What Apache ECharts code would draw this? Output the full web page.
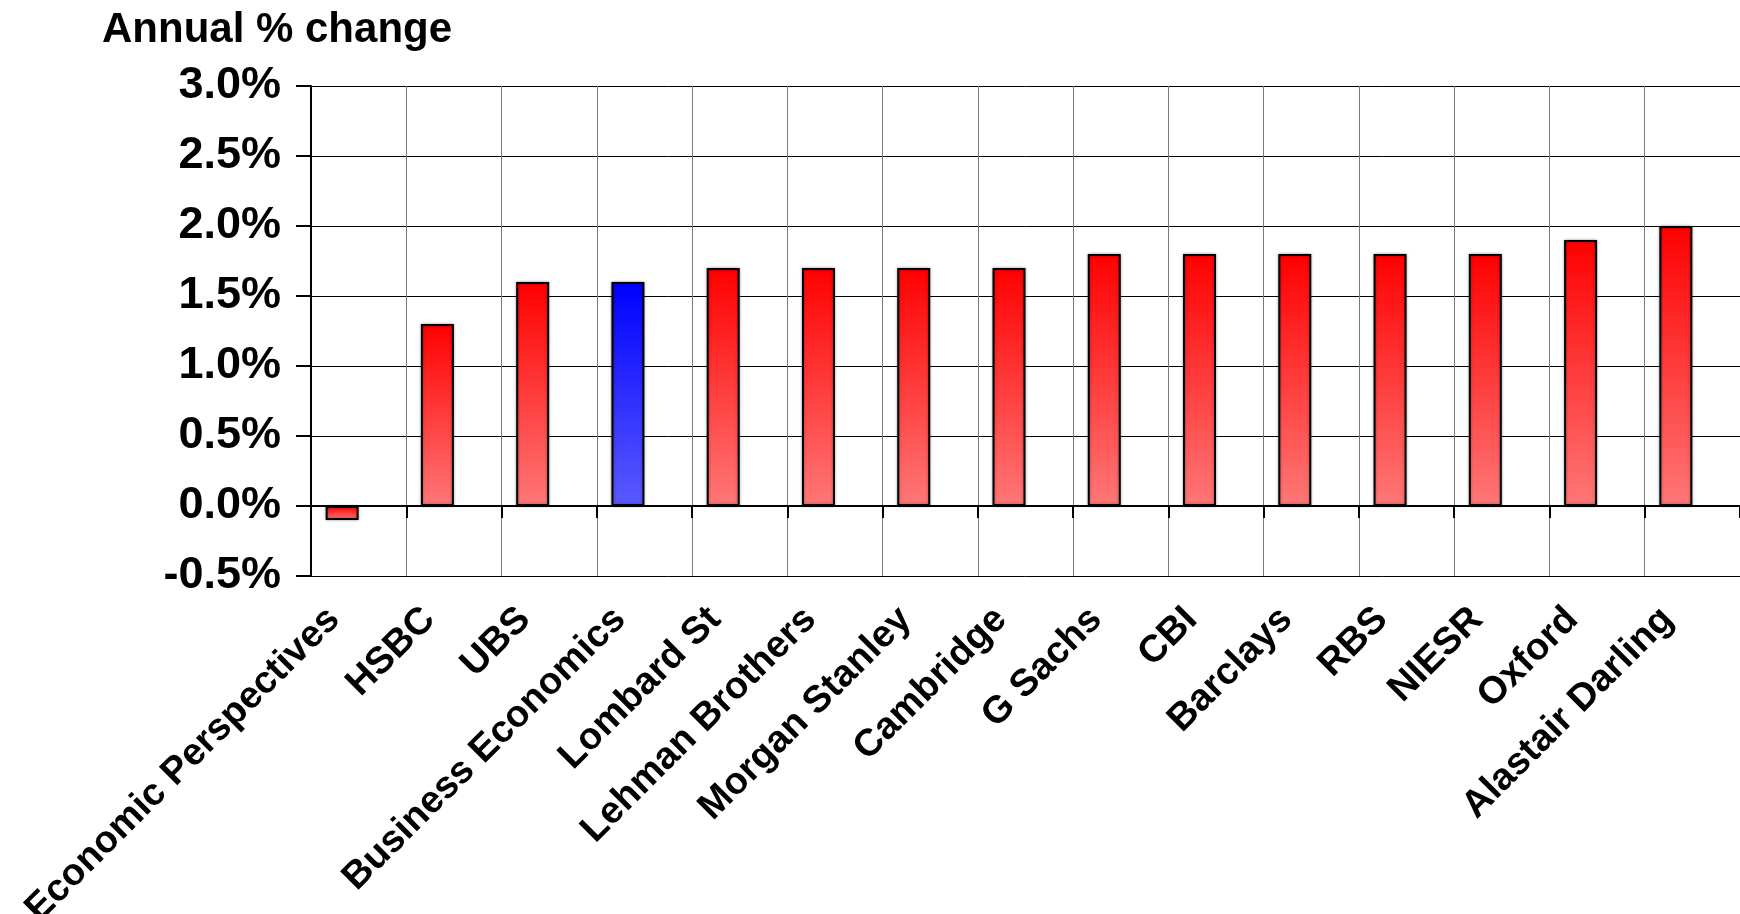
<!DOCTYPE html>
<html>
<head>
<meta charset="utf-8">
<title>Annual % change</title>
<script src="https://cdn.jsdelivr.net/npm/echarts@6/dist/echarts.min.js"></script>
<style>
    html, body { margin: 0; padding: 0; background: #fff; }
    #chart { width: 1740px; height: 914px; }
</style>
</head>
<body>
<div id="chart"></div>
<script>
    // forecasters, in the order they appear on the axis
    var categories = ['Economic Perspectives', 'HSBC', 'UBS', 'Business Economics', 'Lombard St',
        'Lehman Brothers', 'Morgan Stanley', 'Cambridge', 'G Sachs', 'CBI', 'Barclays', 'RBS',
        'NIESR', 'Oxford', 'Alastair Darling'];
    // annual % change forecast
    var forecasts = [-0.1, 1.3, 1.6, 1.6, 1.7, 1.7, 1.7, 1.7, 1.8, 1.8, 1.8, 1.8, 1.8, 1.9, 2.0];
    // the one drawn in blue
    var highlighted = 'Business Economics';

    var yMin = -0.5, yMax = 3.0, yStep = 0.5;

    var FONT = '"Liberation Sans", Arial, sans-serif';

    function grad(top, bottom) {
        return new echarts.graphic.LinearGradient(0, 0, 0, 1, [
            {offset: 0, color: top},
            {offset: 1, color: bottom}
        ]);
    }

    var redFill = grad('#ff0000', '#ff7777');
    var blueFill = grad('#0000ff', '#5a5aff');

    var barData = forecasts.map(function (v, i) {
        return {
            value: v,
            itemStyle: {color: categories[i] === highlighted ? blueFill : redFill}
        };
    });

    var option = {
        animation: false,
        backgroundColor: '#ffffff',
        title: {
            text: 'Annual % change',
            left: 97,
            top: 4,
            textStyle: {fontFamily: FONT, fontSize: 42, fontWeight: 'bold', color: '#000'}
        },
        grid: {
            left: 311,
            right: 0,
            top: 86,
            bottom: 338,
            outerBoundsMode: 'none'
        },
        xAxis: {
            type: 'category',
            data: categories,
            axisLine: {onZero: true, lineStyle: {color: '#000', width: 2}},
            axisTick: {show: true, length: 12, lineStyle: {color: '#000', width: 2}},
            splitLine: {show: true, lineStyle: {color: '#7a7a7a', width: 1}},
            axisLabel: {
                interval: 0,
                rotate: 45,
                margin: 13,
                padding: [0, 35, 0, 0],
                color: '#000',
                fontFamily: FONT,
                fontSize: 38,
                fontWeight: 'bold'
            }
        },
        yAxis: {
            type: 'value',
            min: yMin,
            max: yMax,
            interval: yStep,
            axisLine: {show: true, lineStyle: {color: '#000', width: 2}},
            axisTick: {show: true, length: 15, lineStyle: {color: '#000', width: 2}},
            splitLine: {show: true, lineStyle: {color: '#000', width: 1}},
            axisLabel: {
                margin: 30,
                color: '#000',
                fontFamily: FONT,
                fontSize: 45,
                fontWeight: 'bold',
                formatter: function (v) {
                    return v.toFixed(1) + '%';
                }
            }
        },
        series: [
            {
                name: 'Forecast',
                type: 'bar',
                data: barData,
                barWidth: 33,
                barGap: '0%',
                itemStyle: {
                    borderColor: '#000',
                    borderWidth: 2,
                    shadowColor: 'rgba(0,0,0,0.35)',
                    shadowBlur: 3
                }
            },
            {
                // empty second slot, keeps the bars on the left half of each category
                name: 'spacer',
                type: 'bar',
                data: [],
                barWidth: 33,
                barGap: '0%'
            }
        ]
    };

    var chart = echarts.init(document.getElementById('chart'));
    chart.setOption(option);
</script>
</body>
</html>
